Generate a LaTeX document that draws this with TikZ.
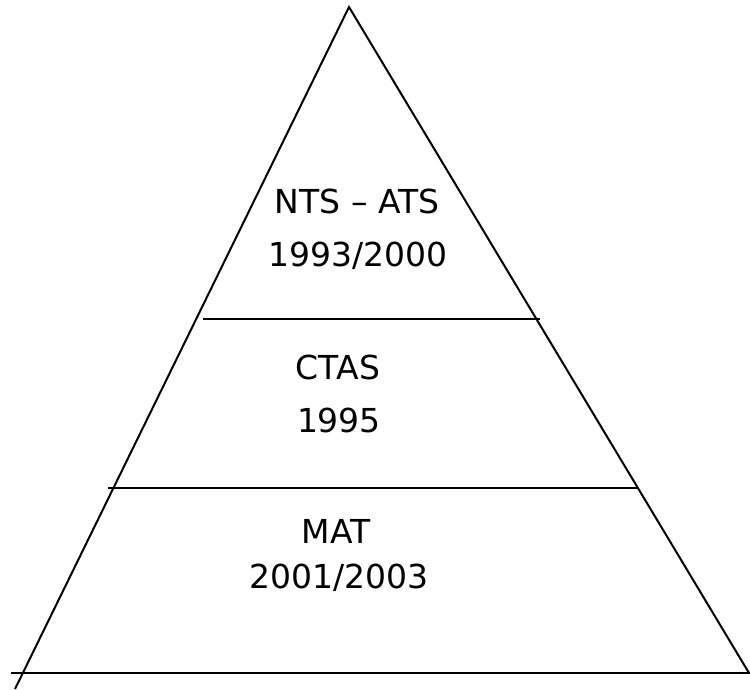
\documentclass[tikz,border=0pt]{standalone}
\usepackage{fontspec}
\setmainfont{DejaVu Sans}
\begin{document}
\begin{tikzpicture}[x=1pt,y=-1pt,
  edge/.style={line width=2pt,line cap=butt},
  lbl/.style={font=\fontsize{33}{39}\selectfont,inner sep=0pt,anchor=center}]
\useasboundingbox (0,0) rectangle (750,690);
\coordinate (apex) at (349,7);
\coordinate (lfoot) at (15,689);
\coordinate (rfoot) at (749,673);
\coordinate (b1) at (11,673);
\coordinate (b2) at (750,673);
\coordinate (u1) at (203,319);
\coordinate (u2) at (540,319);
\coordinate (m1) at (108,488);
\coordinate (m2) at (638,488);
\draw[edge] (lfoot) -- (apex) -- (rfoot);
\draw[edge] (b1) -- (b2);
\draw[edge] (u1) -- (u2);
\draw[edge] (m1) -- (m2);
\node[lbl] (t1) at (357,201) {NTS – ATS};
\node[lbl] (t2) at (358,256) {1993/2000};
\node[lbl] (t3) at (338,367) {CTAS};
\node[lbl] (t4) at (339,420) {1995};
\node[lbl] (t5) at (336,531) {MAT};
\node[lbl] (t6) at (339,578) {2001/2003};
\end{tikzpicture}
\end{document}
